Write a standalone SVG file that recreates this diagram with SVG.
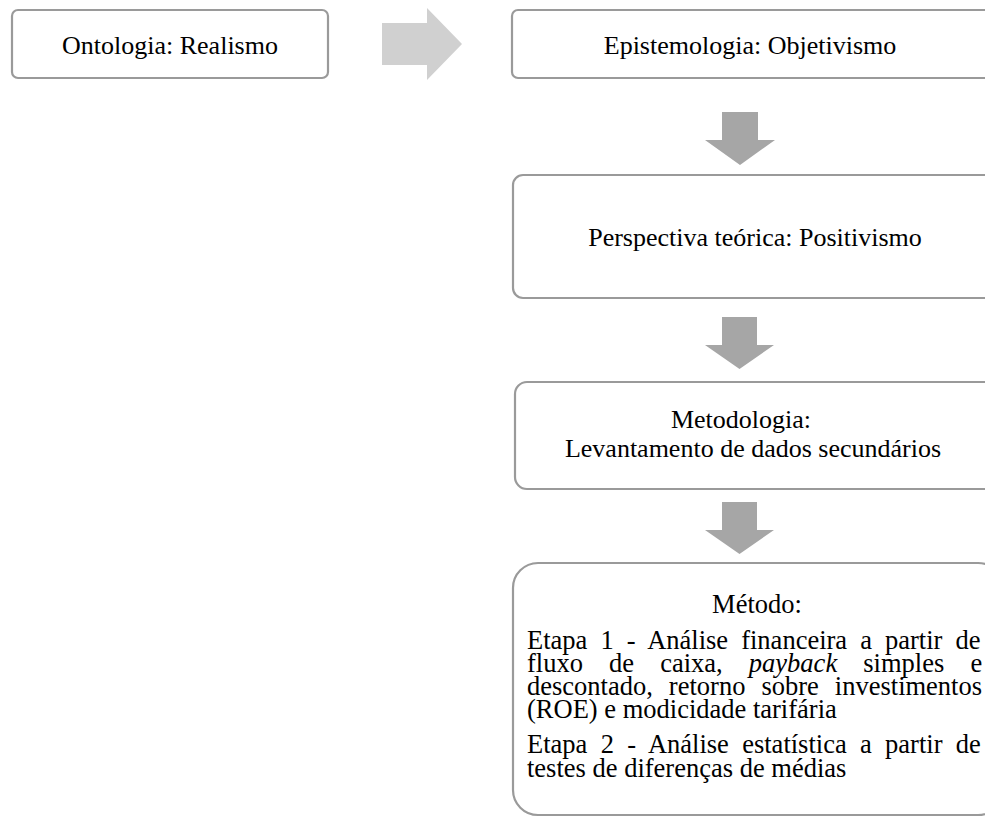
<svg xmlns="http://www.w3.org/2000/svg" width="985" height="819" viewBox="0 0 985 819">
<style>
.box{fill:#ffffff;stroke:#9a9a9a;stroke-width:2.2}
.t{font-family:"Liberation Serif","Times New Roman",serif;font-size:26px;fill:#000}
.tm{font-family:"Liberation Serif","Times New Roman",serif;font-size:26.5px;fill:#000}
.c{text-anchor:middle}
.arrowR{fill:#d0d0d0}
.arrowD{fill:#a6a6a6}
</style>
<g id="connectors">
<polygon class="arrowR" points="382,23 427,23 427,8 462,44 427,80 427,65 382,65"/>
<polygon class="arrowD" points="722,112 758,112 758,140 775,140 740,165 705,140 722,140"/>
<polygon class="arrowD" points="722,317 757,317 757,345 774,345 739.5,369 705,345 722,345"/>
<polygon class="arrowD" points="722,502 757,502 757,530 774,530 739.5,554 705,530 722,530"/>
</g>
<g id="ontologia">
<rect class="box" x="12" y="10" width="316" height="68" rx="6"/>
<text class="t c" x="170" y="54">Ontologia: Realismo</text>
</g>
<g id="epistemologia">
<rect class="box" x="512" y="10" width="490" height="68" rx="6"/>
<text class="t c" x="750" y="54">Epistemologia: Objetivismo</text>
</g>
<g id="perspectiva">
<rect class="box" x="513" y="175" width="490" height="123" rx="10"/>
<text class="t c" x="755" y="246">Perspectiva teórica: Positivismo</text>
</g>
<g id="metodologia">
<rect class="box" x="515" y="382" width="490" height="107" rx="12"/>
<text class="t c" x="741" y="428">Metodologia:</text>
<text class="t c" x="753" y="457">Levantamento de dados secundários</text>
</g>
<g id="metodo">
<rect class="box" x="513" y="563" width="490" height="252" rx="25"/>
<text class="tm c" x="757" y="613">Método:</text>
<text class="tm" x="527" y="649" word-spacing="6.45">Etapa 1 - Análise financeira a partir de</text>
<text class="tm" x="527" y="672" word-spacing="19.5">fluxo de caixa, <tspan font-style="italic">payback</tspan> simples e</text>
<text class="tm" x="527" y="695" word-spacing="9.4">descontado, retorno sobre investimentos</text>
<text class="tm" x="527" y="718">(ROE) e modicidade tarifária</text>
<text class="tm" x="527" y="753" word-spacing="6.7">Etapa 2 - Análise estatística a partir de</text>
<text class="tm" x="527" y="777">testes de diferenças de médias</text>
</g>
</svg>
